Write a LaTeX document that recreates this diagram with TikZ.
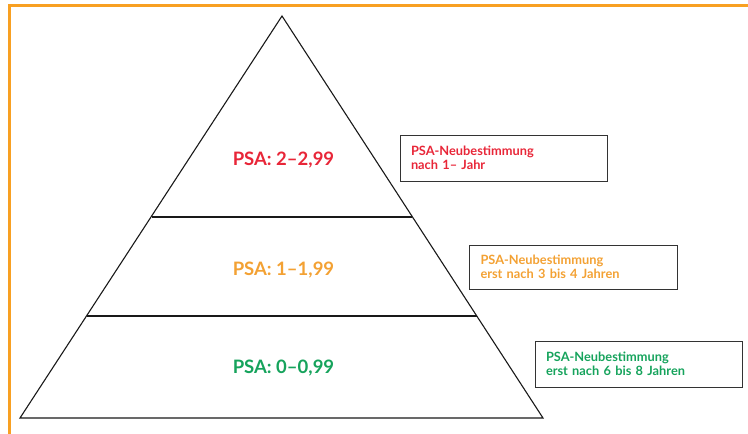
\documentclass[tikz,border=0pt]{standalone}
\usepackage{fontspec}
\setmainfont{Lato}
\definecolor{psared}{RGB}{232,38,56}
\definecolor{psaorange}{RGB}{243,161,51}
\definecolor{psagreen}{RGB}{22,163,92}
\definecolor{frameorange}{RGB}{248,160,34}
\begin{document}
\begin{tikzpicture} [x=1pt, y=-1pt]

      \tikzstyle{level_style} = [inner sep=0pt, font=\fontsize{18.5}{20}\selectfont\bfseries]
        \tikzstyle{box_style} = [draw=black!80, line width=1pt, minimum width=207pt, minimum height=46pt, inner xsep=11pt, inner ysep=0pt, text width=185pt, align=left, font=\fontsize{12.8}{14}\selectfont\bfseries]
            \tikzstyle{edge_style} = [black!90, line width=1.1pt, line join=miter]

      \useasboundingbox (0,0) rectangle (748,434);

      % frame
      \draw[frameorange, line width=3pt] (748,5.5) -- (9.5,5.5) -- (9.5,434);

      % pyramid
      \coordinate (apex) at (282,16);
      \coordinate (bl) at (20,418);
      \coordinate (br) at (543,418);
      \coordinate (l1) at (151.5,217);
      \coordinate (r1) at (412,217);
      \coordinate (l2) at (86.5,316);
      \coordinate (r2) at (477,316);
      \draw[edge_style] (apex) -- (bl) -- (br) -- cycle;
      \draw[edge_style] (l1) -- (r1);
      \draw[edge_style] (l2) -- (r2);

            \draw
              (283.5, 160.0) node[level_style, text=psared] (0){PSA: 2--2,99}
              (283.5, 270.0) node[level_style, text=psaorange] (1){PSA: 1--1,99}
              (283.5, 368.0) node[level_style, text=psagreen] (2){PSA: 0--0,99}
              (503.5, 158.0) node[box_style, text=psared] (3){PSA-Neubestimmung\\nach 1-- Jahr}
              (573.0, 267.0) node[box_style, minimum width=208pt, minimum height=44pt, text=psaorange] (4){PSA-Neubestimmung\\erst nach 3 bis 4 Jahren}
              (638.5, 364.0) node[box_style, inner xsep=9pt, text=psagreen] (5){PSA-Neubestimmung\\erst nach 6 bis 8 Jahren};

    \end{tikzpicture}
\end{document}
